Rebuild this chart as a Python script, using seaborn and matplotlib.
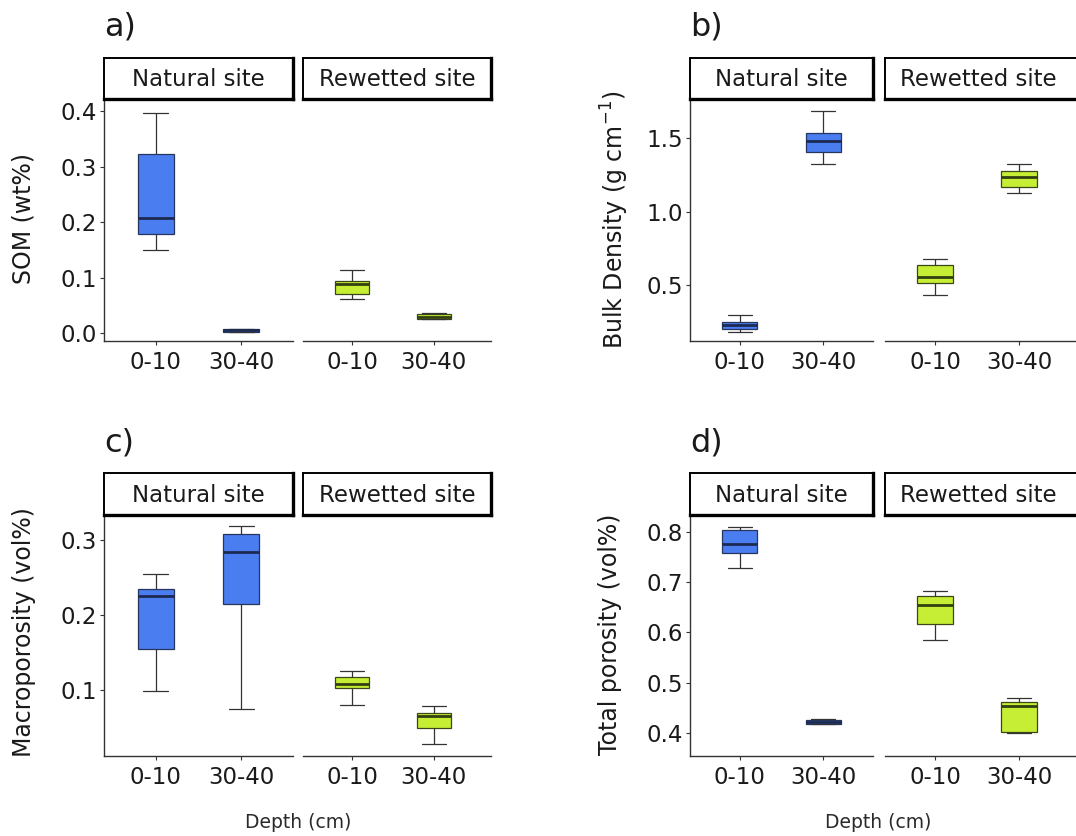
import numpy as np
import pandas as pd
import matplotlib
matplotlib.use("Agg")
import matplotlib.pyplot as plt
import seaborn as sns

sns.set_theme(style="white")
plt.rcParams['font.family'] = ['DejaVu Sans']

# ---------------- data (min, q1, median, q3, max) -------------
depths = ["0-10", "30-40"]
sites = ["Natural site", "Rewetted site"]

som_nat_0_10 = [0.150, 0.178, 0.208, 0.322, 0.397]
som_nat_30_40 = [0.002, 0.003, 0.005, 0.007, 0.008]
som_rew_0_10 = [0.061, 0.071, 0.088, 0.094, 0.113]
som_rew_30_40 = [0.025, 0.026, 0.029, 0.034, 0.036]

bd_nat_0_10 = [0.185, 0.203, 0.228, 0.253, 0.298]
bd_nat_30_40 = [1.323, 1.407, 1.482, 1.532, 1.684]
bd_rew_0_10 = [0.432, 0.516, 0.557, 0.638, 0.679]
bd_rew_30_40 = [1.124, 1.169, 1.233, 1.273, 1.323]

mac_nat_0_10 = [0.099, 0.155, 0.225, 0.235, 0.255]
mac_nat_30_40 = [0.075, 0.215, 0.285, 0.309, 0.319]
mac_rew_0_10 = [0.080, 0.103, 0.108, 0.117, 0.125]
mac_rew_30_40 = [0.027, 0.049, 0.065, 0.069, 0.079]

tp_nat_0_10 = [0.728, 0.758, 0.777, 0.805, 0.810]
tp_nat_30_40 = [0.417, 0.418, 0.422, 0.426, 0.428]
tp_rew_0_10 = [0.586, 0.617, 0.655, 0.672, 0.683]
tp_rew_30_40 = [0.400, 0.402, 0.453, 0.461, 0.470]

panel_labels = ["a)", "b)", "c)", "d)"]
y_labels = ["SOM (wt%)", "Bulk Density (g cm$^{-1}$)",
            "Macroporosity (vol%)", "Total porosity (vol%)"]
y_ticks = [[0.0, 0.1, 0.2, 0.3, 0.4], [0.5, 1.0, 1.5],
           [0.1, 0.2, 0.3], [0.4, 0.5, 0.6, 0.7, 0.8]]


def make_df(n0, n1, r0, r1):
    rows = []
    for site, dep, vals in [(sites[0], depths[0], n0), (sites[0], depths[1], n1),
                            (sites[1], depths[0], r0), (sites[1], depths[1], r1)]:
        for v in vals:
            rows.append({"site": site, "depth": dep, "value": v})
    return pd.DataFrame(rows)


dfs = [make_df(som_nat_0_10, som_nat_30_40, som_rew_0_10, som_rew_30_40),
       make_df(bd_nat_0_10, bd_nat_30_40, bd_rew_0_10, bd_rew_30_40),
       make_df(mac_nat_0_10, mac_nat_30_40, mac_rew_0_10, mac_rew_30_40),
       make_df(tp_nat_0_10, tp_nat_30_40, tp_rew_0_10, tp_rew_30_40)]

# ---------------- styling / layout ----------------
W, H = 1076, 836
fig = plt.figure(figsize=(W / 100, H / 100), dpi=100)


def rect(x0, y0, x1, y1):
    return [x0 / W, 1 - y1 / H, (x1 - x0) / W, (y1 - y0) / H]


fill_cols = {"Natural site": "#4A7DF0", "Rewetted site": "#C5EE35"}
edge_cols = {"Natural site": "#27365E", "Rewetted site": "#3B4719"}
med_cols = {"Natural site": "#1C2A52", "Rewetted site": "#334011"}
txt = "#1a1a1a"
axcol = "#333333"

ylims = [(-0.014, 0.421), (0.121, 1.763), (0.0116, 0.334), (0.354, 0.834)]
facet_x = [[(104, 293), (303, 491)], [(690, 873), (884.6, 1078)],
           [(104, 293), (303, 491)], [(690, 873), (884.6, 1078)]]
strip_y = [(58, 99.3), (58, 99.3), (473.3, 515), (473.3, 515)]
axes_bottom = [341, 341, 756, 756]
xlims = [(-0.6, 1.6), (-0.6, 1.7)]
ylabel_pos = [(24, 218), (615, 220), (24, 632), (610, 634)]
plabel_pos = [(104, 35), (690, 35), (104, 451), (690, 451)]
depth_label_pos = [None, None, (298, 822), (878, 822)]

for p in range(4):
    df = dfs[p]
    for s_i, site in enumerate(sites):
        x0, x1 = facet_x[p][s_i]
        y0s, y1s = strip_y[p]
        ax = fig.add_axes(rect(x0, y1s, x1, axes_bottom[p]))
        sub = df[df["site"] == site]
        sns.boxplot(data=sub, x="depth", y="value", order=depths,
                    color=fill_cols[site], saturation=1, width=0.42,
                    whis=(0, 100), showfliers=False, linewidth=0.9,
                    linecolor=edge_cols[site],
                    medianprops=dict(color=med_cols[site], linewidth=2.0),
                    whiskerprops=dict(color=axcol, linewidth=0.9),
                    capprops=dict(color=axcol, linewidth=0.9),
                    capwidths=0.29,
                    ax=ax)
        ax.set_xlim(*xlims[s_i])
        ax.set_ylim(*ylims[p])
        ax.set_xlabel("")
        ax.set_ylabel("")
        for sp in ["top", "right"]:
            ax.spines[sp].set_visible(False)
        ax.spines["bottom"].set_color(axcol)
        ax.spines["bottom"].set_linewidth(1.0)
        ax.tick_params(axis="x", length=3.2, width=0.8, color=axcol,
                       labelsize=16.5, labelcolor=txt, pad=4, bottom=True)
        if s_i == 0:
            ax.spines["left"].set_color(axcol)
            ax.spines["left"].set_linewidth(1.0)
            ax.set_yticks(y_ticks[p])
            ax.set_yticklabels([f"{t:.1f}" for t in y_ticks[p]])
            ax.tick_params(axis="y", length=3.2, width=0.8, color=axcol,
                           labelsize=16.5, labelcolor=txt, pad=2, left=True)
        else:
            ax.spines["left"].set_visible(False)
            ax.set_yticks([])
        ax.grid(False)

        # strip
        sax = fig.add_axes(rect(x0, y0s, x1, y1s))
        sax.set_xticks([])
        sax.set_yticks([])
        sax.set_facecolor("white")
        for sp in ["top", "left"]:
            sax.spines[sp].set_linewidth(1.4)
            sax.spines[sp].set_color("black")
        for sp in ["bottom", "right"]:
            sax.spines[sp].set_linewidth(2.4)
            sax.spines[sp].set_color("black")
        frac = 0.5 if s_i == 0 else 188 / (x1 - x0) / 2
        sax.text(frac, 0.47, site, ha="center", va="center",
                 fontsize=16.5, color=txt, transform=sax.transAxes)

    lx, ly = ylabel_pos[p]
    fig.text(lx / W, 1 - ly / H, y_labels[p], rotation=90, ha="center",
             va="center", fontsize=17, color=txt)
    px, py = plabel_pos[p]
    fig.text(px / W, 1 - py / H, panel_labels[p], ha="left", va="baseline",
             fontsize=23, color=txt)
    if depth_label_pos[p] is not None:
        dx, dy = depth_label_pos[p]
        fig.text(dx / W, 1 - dy / H, "Depth (cm)", ha="center", va="center",
                 fontsize=13.5, color="#2a2a2a")

fig.savefig("out.png", dpi=100, facecolor="white")
